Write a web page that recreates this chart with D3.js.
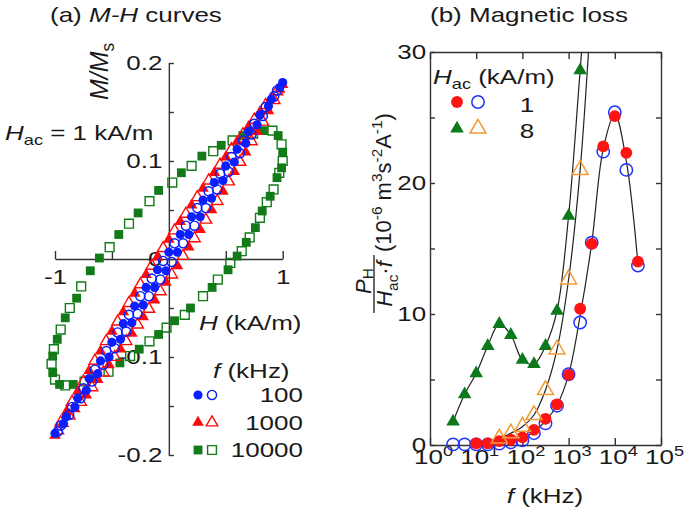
<!DOCTYPE html>
<html>
<head>
<meta charset="utf-8">
<script src="https://cdn.jsdelivr.net/npm/d3@7"></script>
<style>
  body { margin: 0; background: #fff; }
  svg { display: block; }
  text { font-family: Arial, "Liberation Sans", sans-serif; fill: #1a1a1a; white-space: pre; }
</style>
</head>
<body>
<svg id="fig" width="685" height="518"></svg>
<script>
// ---- (a) M-H loops, [H (kA/m), M/Ms] ----
var loop100 = [
  [1.00,0.180],[0.95,0.172],[0.90,0.163],[0.85,0.155],[0.80,0.147],[0.75,0.138],[0.70,0.130],[0.65,0.121],
  [0.60,0.112],[0.55,0.104],[0.50,0.095],[0.45,0.087],[0.40,0.078],[0.35,0.069],[0.30,0.060],[0.25,0.052],
  [0.20,0.043],[0.15,0.034],[0.10,0.025],[0.05,0.016],[0.00,0.007],[-0.05,-0.002],[-0.10,-0.011],[-0.15,-0.020],
  [-0.20,-0.029],[-0.25,-0.038],[-0.30,-0.048],[-0.35,-0.057],[-0.40,-0.066],[-0.45,-0.075],[-0.50,-0.085],
  [-0.55,-0.094],[-0.60,-0.104],[-0.65,-0.113],[-0.70,-0.122],[-0.75,-0.132],[-0.80,-0.142],[-0.85,-0.151],
  [-0.90,-0.161],[-0.95,-0.170],[-1.00,-0.178],
  [-0.975,-0.176],[-0.925,-0.168],[-0.875,-0.159],[-0.825,-0.151],[-0.775,-0.142],[-0.725,-0.134],[-0.675,-0.125],
  [-0.625,-0.117],[-0.575,-0.108],[-0.525,-0.100],[-0.475,-0.091],[-0.425,-0.082],[-0.375,-0.074],[-0.325,-0.065],
  [-0.275,-0.056],[-0.225,-0.047],[-0.175,-0.038],[-0.125,-0.029],[-0.075,-0.021],[-0.025,-0.012],[0.025,-0.003],
  [0.075,0.007],[0.125,0.016],[0.175,0.025],[0.225,0.034],[0.275,0.043],[0.325,0.052],[0.375,0.062],[0.425,0.071],
  [0.475,0.080],[0.525,0.089],[0.575,0.099],[0.625,0.108],[0.675,0.118],[0.725,0.127],[0.775,0.137],[0.825,0.146],
  [0.875,0.156],[0.925,0.166],[0.975,0.175]
]
var loop1000 = [
  [1.00,0.178],[0.95,0.171],[0.90,0.164],[0.85,0.157],[0.80,0.150],[0.75,0.142],[0.70,0.135],[0.65,0.127],
  [0.60,0.120],[0.55,0.112],[0.50,0.104],[0.45,0.096],[0.40,0.088],[0.35,0.080],[0.30,0.072],[0.25,0.063],
  [0.20,0.055],[0.15,0.046],[0.10,0.038],[0.05,0.029],[0.00,0.020],[-0.05,0.011],[-0.10,0.002],[-0.15,-0.007],
  [-0.20,-0.016],[-0.25,-0.026],[-0.30,-0.035],[-0.35,-0.045],[-0.40,-0.054],[-0.45,-0.064],[-0.50,-0.074],
  [-0.55,-0.084],[-0.60,-0.094],[-0.65,-0.104],[-0.70,-0.114],[-0.75,-0.125],[-0.80,-0.135],[-0.85,-0.146],
  [-0.90,-0.156],[-0.95,-0.167],[-1.00,-0.180],
  [-0.975,-0.175],[-0.925,-0.168],[-0.875,-0.160],[-0.825,-0.153],[-0.775,-0.146],[-0.725,-0.139],[-0.675,-0.131],
  [-0.625,-0.123],[-0.575,-0.116],[-0.525,-0.108],[-0.475,-0.100],[-0.425,-0.092],[-0.375,-0.084],[-0.325,-0.076],
  [-0.275,-0.067],[-0.225,-0.059],[-0.175,-0.051],[-0.125,-0.042],[-0.075,-0.033],[-0.025,-0.024],[0.025,-0.016],
  [0.075,-0.007],[0.125,0.003],[0.175,0.012],[0.225,0.021],[0.275,0.030],[0.325,0.040],[0.375,0.050],[0.425,0.059],
  [0.475,0.069],[0.525,0.079],[0.575,0.089],[0.625,0.099],[0.675,0.109],[0.725,0.120],[0.775,0.130],[0.825,0.140],
  [0.875,0.151],[0.925,0.162],[0.975,0.173]
]
var loop10000 = [
  [-0.61,0.001],[-0.52,0.012],[-0.44,0.025],[-0.35,0.036],[-0.27,0.047],[-0.17,0.059],[-0.09,0.070],[0.03,0.078],
  [0.11,0.088],[0.20,0.095],[0.29,0.105],[0.39,0.110],[0.46,0.116],[0.56,0.121],[0.65,0.126],[0.74,0.128],
  [0.83,0.131],[0.91,0.131],[0.96,0.126],[0.99,0.117],[1.00,0.109],[1.00,0.100],[0.99,0.093],[0.97,0.088],
  [0.95,0.083],[0.92,0.071],[0.89,0.064],[0.86,0.058],[0.82,0.049],[0.80,0.042],[0.76,0.032],[0.71,0.022],
  [0.68,0.017],[0.64,0.008],[0.60,0.003],[0.54,-0.004],[0.52,-0.011],[0.43,-0.021],[0.38,-0.029],[0.30,-0.038],
  [0.19,-0.050],[0.14,-0.057],[0.05,-0.063],[-0.02,-0.070],[-0.09,-0.077],[-0.17,-0.084],[-0.26,-0.092],
  [-0.34,-0.099],[-0.43,-0.106],[-0.53,-0.115],[-0.64,-0.120],[-0.74,-0.125],[-0.84,-0.128],[-0.91,-0.129],
  [-0.96,-0.128],[-1.00,-0.123],[-1.02,-0.116],[-1.03,-0.107],[-1.02,-0.099],[-1.01,-0.092],[-0.98,-0.082],
  [-0.95,-0.072],[-0.91,-0.060],[-0.87,-0.050],[-0.81,-0.040],[-0.77,-0.028],[-0.69,-0.012]
]
var freqLegendA = ['100', '1000', '10000']
var xTicksA = [-1, -0.5, 0.5, 1]
var yTicksA = [-0.2, -0.15, -0.1, -0.05, 0, 0.05, 0.1, 0.15, 0.2]

// ---- (b) magnetic loss, PH/(Hac f) in 1e-6 m3 s-2 A-1 ----
var freqB = [3.16, 5.62, 10, 17.8, 31.6, 56.2, 100, 178, 316, 562, 1000, 1778, 3162, 5623, 10000, 17783, 31623]
var loss1Filled = [null, null, 0.13, 0.13, 0.30, 0.40, 0.58, 1.15, 2.0, 3.1, 5.35, 10.4, 15.35, 22.8, 25.1, 22.3, 14.0]
var loss1Open   = [0.05, 0.05, 0.05, 0.05, 0.10, 0.20, 0.35, 0.90, 1.65, 3.0, 5.4, 9.35, 15.45, 22.4, 25.4, 21.0, 13.7]
var loss8Filled = [1.78, 3.87, 5.47, 7.56, 9.24, 8.4, 6.5, 6.18, 7.56, 10.25, 17.5, 28.6, 40, null, null, null, null]
var loss8Open   = [null, null, null, null, 0.5, 0.9, 1.4, 2.29, 4.2, 7.3, 12.65, 21.0, 34, null, null, null, null]
var xTicksB = [1, 10, 100, 1000, 10000, 100000]
var yTicksB = [0, 5, 10, 15, 20, 25, 30]
var hacLegend = ['1', '8']

var SX = 1.3  // the horizontal text in the figure is drawn wide
var C = { blue: '#0a1eff', red: '#ff0a0a', green: '#127a18', orange: '#f39a36',
          bBlue: '#2233ff', bRed: '#ff1414', bGreen: '#0c7a1c' }

var svg = d3.select('#fig')

// rich text: parts = [{t, i, sub, sup}]
function rich(parent, x, y, parts, o) {
  o = o || {}
  var size = o.size || 20
  var tf = 'translate(' + x + ',' + y + ')' + (o.rot ? ' rotate(-90)' : '') + (o.sx ? ' scale(' + o.sx + ',1)' : '')
  var t = parent.append('text').attr('transform', tf).attr('font-size', size).attr('text-anchor', o.anchor || 'start')
  var shift = 0
  parts.forEach(function(p) {
    var s = p.sub ? (o.subShift != null ? o.subShift : size * 0.25) : p.sup ? -size * 0.42 : 0
    t.append('tspan')
      .attr('dy', s - shift)
      .attr('font-size', (p.sub || p.sup) ? size * 0.7 : null)
      .attr('font-style', p.i ? 'italic' : null)
      .text(p.t)
    shift = s
  })
  return t
}

function marker(parent, x, y, type, size, color, open) {
  return parent.append('path')
    .attr('transform', 'translate(' + x + ',' + y + ')')
    .attr('d', d3.symbol().type(type).size(size)())
    .attr('fill', open ? 'none' : color)
    .attr('stroke', open ? color : 'none')
    .attr('stroke-width', 1.4)
}

// axis styling after d3 has set its own defaults
function styleAxis(g) {
  g.attr('font-size', 20).attr('font-family', null).attr('color', '#333')
  g.selectAll('path,line').attr('stroke-width', 1.4)
  g.selectAll('text').attr('fill', '#1a1a1a').attr('transform', 'scale(' + SX + ',1)')
}

// ================= (a) =================
var xA = d3.scaleLinear().domain([-1, 1]).range([55, 282.7])
var yA = d3.scaleLinear().domain([-0.2, 0.2]).range([455, 63])
var gA = svg.append('g')

gA.append('g')
  .attr('transform', 'translate(0,' + yA(0) + ')')
  .call(d3.axisBottom(xA).tickValues(xTicksA).tickSizeInner(-8).tickSizeOuter(0).tickPadding(11)
    .tickFormat(function(d) { return Math.abs(d) === 1 ? String(d) : '' }))
  .call(styleAxis)

gA.append('g')
  .attr('transform', 'translate(' + xA(0) + ',0)')
  .call(d3.axisLeft(yA).tickValues(yTicksA).tickSizeInner(-5).tickSizeOuter(0).tickPadding(5)
    .tickFormat(function(d) { return Math.round(d * 100) % 10 === 0 ? String(+d.toFixed(1)) : '' }))
  .call(styleAxis)

function drawLoop(pts, type, size, color) {
  gA.append('g').selectAll('path').data(pts).join('path')
    .attr('transform', function(d) { return 'translate(' + xA(d[0]) + ',' + yA(d[1]) + ')' })
    .attr('d', d3.symbol().type(type).size(size)())
    .attr('fill', function(d, i) { return i % 2 ? 'none' : color })
    .attr('stroke', function(d, i) { return i % 2 ? color : 'none' })
    .attr('stroke-width', 1.4)
}
drawLoop(loop10000, d3.symbolSquare, 78, C.green)
drawLoop(loop1000, d3.symbolTriangle, 58, C.red)
drawLoop(loop100, d3.symbolCircle, 66, C.blue)

rich(svg, 50, 22, [{t: '(a) '}, {t: 'M-H', i: true}, {t: ' curves'}], {sx: SX})
rich(svg, 5, 140, [{t: 'H', i: true}, {t: 'ac', sub: true}, {t: ' = 1 kA/m'}], {sx: SX})
rich(svg, 199, 330, [{t: 'H', i: true}, {t: ' (kA/m)'}], {sx: SX})
rich(svg, 108, 100, [{t: 'M/M', i: true}, {t: 's', sub: true}], {rot: true, size: 25})

// legend (a)
rich(svg, 213, 378, [{t: 'f', i: true}, {t: ' (kHz)'}], {sx: SX})
var legA = [[d3.symbolCircle, 66, C.blue], [d3.symbolTriangle, 58, C.red], [d3.symbolSquare, 78, C.green]]
freqLegendA.forEach(function(lab, i) {
  var y = 395 + i * 27.5
  marker(svg, 198, y, legA[i][0], legA[i][1], legA[i][2], false)
  marker(svg, 212, y, legA[i][0], legA[i][1], legA[i][2], true)
  rich(svg, 303, y + 7, [{t: lab}], {sx: SX, anchor: 'end'})
})

// ================= (b) =================
var xB = d3.scaleLog().domain([1, 1e5]).range([430, 661])
var yB = d3.scaleLinear().domain([0, 30]).range([445, 52])
var gB = svg.append('g')

function axB(axis, tf) {
  return gB.append('g').attr('transform', tf).call(axis).call(styleAxis)
}
axB(d3.axisLeft(yB).tickValues(yTicksB).tickSizeInner(-5).tickSizeOuter(0).tickPadding(3)
  .tickFormat(function(d) { return d % 10 === 0 ? String(d) : '' }), 'translate(430,0)')
axB(d3.axisRight(yB).tickValues(yTicksB).tickSizeInner(-5).tickSizeOuter(0).tickFormat(''), 'translate(661,0)')
axB(d3.axisTop(xB).tickValues(xTicksB).tickSizeInner(-7).tickSizeOuter(0).tickFormat(''), 'translate(0,52)')
axB(d3.axisBottom(xB).tickValues(xTicksB).tickSizeInner(-7).tickSizeOuter(0).tickPadding(5).tickFormat(''), 'translate(0,445)')
  .call(function(g) {
    g.selectAll('.tick text').each(function(d) {
      var t = d3.select(this).attr('transform', 'translate(3,0) scale(' + SX + ',1)')
      t.append('tspan').text('10')
      t.append('tspan').attr('dy', -8).attr('font-size', 14).text(String(Math.round(Math.log10(d))))
    })
  })

svg.append('clipPath').attr('id', 'clipB').append('rect')
  .attr('x', 380).attr('y', yB(30)).attr('width', 305).attr('height', 518 - yB(30))
var plotB = gB.append('g').attr('clip-path', 'url(#clipB)')

function series(vals) {
  return freqB.map(function(f, i) { return [f, vals[i]] }).filter(function(d) { return d[1] != null })
}
var mean1 = freqB.map(function(f, i) {
  return loss1Filled[i] == null ? null : (loss1Filled[i] + loss1Open[i]) / 2
})
var line = d3.line().x(function(d) { return xB(d[0]) }).y(function(d) { return yB(d[1]) })
  .curve(d3.curveCatmullRom.alpha(0.5))
;[series(mean1), series(loss8Filled), series(loss8Open)].forEach(function(s) {
  plotB.append('path').attr('d', line(s)).attr('fill', 'none').attr('stroke', '#222').attr('stroke-width', 1.2)
})

function drawSeries(vals, type, size, color, open) {
  plotB.append('g').selectAll('path').data(series(vals)).join('path')
    .attr('transform', function(d) { return 'translate(' + xB(d[0]) + ',' + yB(d[1]) + ')' })
    .attr('d', d3.symbol().type(type).size(size)())
    .attr('fill', open ? 'none' : color)
    .attr('stroke', open ? color : 'none')
    .attr('stroke-width', 1.5)
}
drawSeries(loss1Open, d3.symbolCircle, 120, C.bBlue, true)
drawSeries(loss1Filled, d3.symbolCircle, 110, C.bRed, false)
drawSeries(loss8Filled, d3.symbolTriangle, 80, C.bGreen, false)
drawSeries(loss8Open, d3.symbolTriangle, 110, C.orange, true)

rich(svg, 430, 22, [{t: '(b) Magnetic loss'}], {sx: SX})
rich(svg, 545, 503, [{t: 'f', i: true}, {t: ' (kHz)'}], {sx: SX, anchor: 'middle'})

// legend (b)
rich(svg, 433, 84, [{t: 'H', i: true}, {t: 'ac', sub: true}, {t: ' (kA/m)'}], {sx: SX})
var legB = [[d3.symbolCircle, 110, C.bRed, d3.symbolCircle, 120, C.bBlue],
            [d3.symbolTriangle, 80, C.bGreen, d3.symbolTriangle, 110, C.orange]]
hacLegend.forEach(function(lab, i) {
  var y = 102 + i * 26.5
  marker(svg, 457, y, legB[i][0], legB[i][1], legB[i][2], false)
  marker(svg, 478, y, legB[i][3], legB[i][4], legB[i][5], true).attr('stroke-width', 1.5)
  rich(svg, 527, y + 9.5, [{t: lab}], {sx: SX, anchor: 'middle'})
})

// y label (b): fraction + unit, rotated
var yl = svg.append('g').attr('transform', 'translate(374,284) rotate(-90)')
yl.append('line').attr('x1', -29).attr('x2', 29).attr('y1', 0).attr('y2', 0)
  .attr('stroke', '#1a1a1a').attr('stroke-width', 1.3)
rich(yl, 3, -3, [{t: 'P', i: true}, {t: 'H', sub: true}], {size: 22, anchor: 'middle', subShift: 2})
rich(yl, 0, 18, [{t: 'H', i: true}, {t: 'ac', sub: true}, {t: '·'}, {t: 'f', i: true}], {size: 22, anchor: 'middle'})
rich(yl, 32, 17, [{t: '(10'}, {t: '-6', sup: true}, {t: ' m'}, {t: '3', sup: true}, {t: 's'},
  {t: '-2', sup: true}, {t: 'A'}, {t: '-1', sup: true}, {t: ')'}], {size: 22})
</script>
</body>
</html>
